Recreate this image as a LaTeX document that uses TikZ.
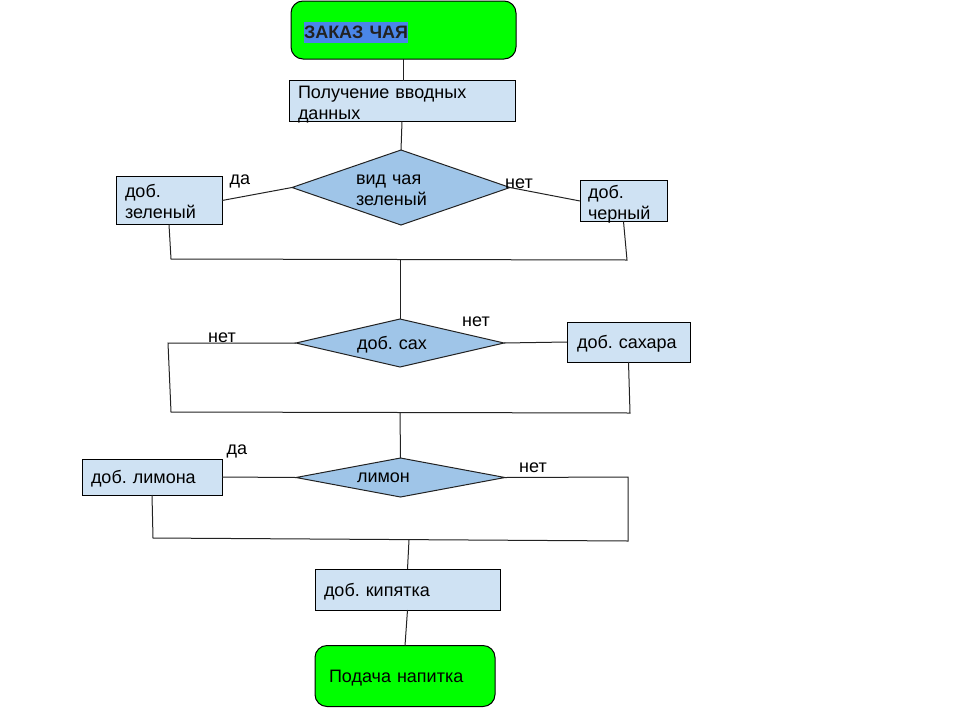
\documentclass[tikz,border=0pt]{standalone}
\usepackage{fontspec}
\setmainfont{Liberation Sans}
\usetikzlibrary{shapes.geometric}
\definecolor{termgreen}{HTML}{00FF00}
\definecolor{boxblue}{HTML}{CFE2F3}
\definecolor{diamblue}{HTML}{9FC5E8}
\definecolor{hlblue}{HTML}{4A86E8}
\definecolor{ink}{HTML}{222222}
\frenchspacing
\tikzset{
  conn/.style={draw=ink, line width=1pt},
  procbox/.style={rectangle, draw=black, line width=1pt, fill=boxblue,
    inner ysep=0pt, outer sep=0pt, align=left},
  decision/.style={diamond, draw=ink, line width=1pt, fill=diamblue,
    inner sep=0pt, outer sep=0pt, align=left},
  terminal/.style={rectangle, rounded corners=12pt, draw=black, line width=1pt,
    fill=termgreen, inner ysep=0pt, outer sep=0pt, align=left},
  oneline/.style={text depth=-2pt},
  twoline/.style={text height=16pt, text depth=22pt},
  lbl/.style={inner sep=0pt, text=black}
}
\begin{document}
\begin{tikzpicture}[x=1pt, y=-1pt, font=\fontsize{18}{21}\selectfont]
\useasboundingbox (0,0) rectangle (960,720);

% start / end terminals
\node[terminal, oneline, minimum width=225pt, minimum height=58pt, inner xsep=13pt, text width=199pt]
  (start) at (403.5,30) {\setlength\fboxsep{0pt}\colorbox{hlblue}{\rule[-5pt]{0pt}{21pt}\textbf{\color{ink}ЗАКАЗ ЧАЯ}}};
\node[terminal, oneline, minimum width=180pt, minimum height=61pt, inner xsep=14pt, text width=152pt]
  (finish) at (405,676) {Подача напитка};

% process boxes
\node[procbox, twoline, minimum width=226pt, minimum height=41pt, inner xsep=9pt, text width=208pt]
  (input) at (402,101) {Получение вводных\\данных};
\node[procbox, twoline, minimum width=106pt, minimum height=48pt, inner xsep=9pt, text width=88pt]
  (green) at (169,200.5) {доб.\\зеленый};
\node[procbox, twoline, minimum width=87pt, minimum height=41pt, inner xsep=8pt, text width=71pt]
  (black) at (623.5,201) {доб.\\черный};
\node[procbox, oneline, minimum width=123pt, minimum height=40pt, inner xsep=10pt, text width=103pt]
  (sugar) at (628.5,342) {доб. сахара};
\node[procbox, oneline, minimum width=140pt, minimum height=36pt, inner xsep=9pt, text width=122pt]
  (lemon) at (152,477) {доб. лимона};
\node[procbox, oneline, minimum width=185pt, minimum height=41pt, inner xsep=9pt, text width=167pt]
  (water) at (407.5,589.5) {доб. кипятка};

% decisions
\node[decision, twoline, aspect=2.9, minimum width=218pt, minimum height=75pt, text width=90pt]
  (d1) at (401,187.5) {вид чая\\зеленый};
\node[decision, oneline, aspect=4.33, minimum width=208pt, minimum height=48pt, text width=86pt]
  (d2) at (400,343) {доб. сах};
\node[decision, oneline, aspect=5.3, minimum width=209pt, minimum height=39pt, text width=87pt]
  (d3) at (400.5,477.5) {лимон};

% branch labels
\node[lbl] (l1) at (240,181.5) {да};
\node[lbl] (l2) at (519,183.5) {нет};
\node[lbl] (l3) at (222,337.5) {нет};
\node[lbl] (l4) at (476,321.5) {нет};
\node[lbl] (l5) at (237,451.5) {да};
\node[lbl] (l6) at (533,467.5) {нет};

% junction points of the merge lines
\coordinate (j1a) at (171,259);
\coordinate (j1b) at (627,260);
\coordinate (j1m) at (400,259.5);
\coordinate (j2l) at (168,343);
\coordinate (j2a) at (171,412);
\coordinate (j2b) at (630,413);
\coordinate (j2m) at (400,412.5);
\coordinate (j3r) at (628,477);
\coordinate (j3b) at (628,541);
\coordinate (j3a) at (153,538);
\coordinate (j3m) at (409,540);

% connectors
\draw[conn] (start.south) -- (start.south |- input.north);
\draw[conn] (input.south) -- (d1.north);
\draw[conn] (green.east) -- (d1.west);
\draw[conn] (d1.east) -- (black.west);
\draw[conn] (green.south) -- (j1a) -- (j1b) -- (black.south);
\draw[conn] (j1m) -- (d2.north);
\draw[conn] (d2.west) -- (j2l) -- (j2a) -- (j2b) -- (sugar.south);
\draw[conn] (d2.east) -- (sugar.west);
\draw[conn] (j2m) -- (d3.north);
\draw[conn] (d3.west) -- (lemon.east);
\draw[conn] (d3.east) -- (j3r) -- (j3b) -- (j3a) -- (lemon.south);
\draw[conn] (j3m) -- (water.north);
\draw[conn] (water.south) -- (finish.north);
\end{tikzpicture}
\end{document}
